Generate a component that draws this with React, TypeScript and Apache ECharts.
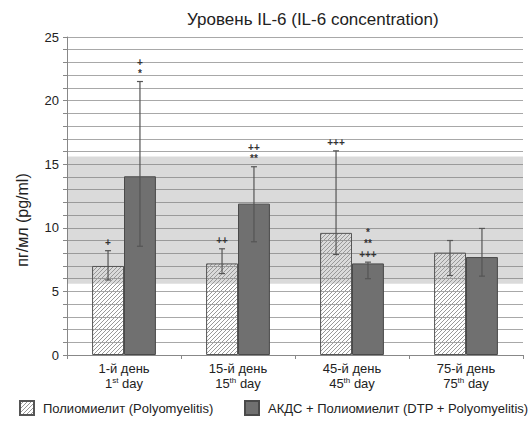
import React, { useEffect, useRef } from 'react';
import * as echarts from 'echarts';

const daysRu = ['1-й день', '15-й день', '45-й день', '75-й день'];
const dayNums = ['1', '15', '45', '75'];
const daySuffix = ['st', 'th', 'th', 'th'];
const polioMean = [7.0, 7.2, 9.6, 8.05];
const polioLow = [5.9, 6.4, 7.9, 6.25];
const polioHigh = [8.2, 8.35, 16.05, 9.0];
const dtpMean = [14.05, 11.9, 7.2, 7.7];
const dtpLow = [8.55, 8.9, 6.0, 6.2];
const dtpHigh = [21.5, 14.8, 7.3, 9.95];
const polioMarks = [['+'], ['++'], ['+++'], []];
const dtpMarks = [['+', '*'], ['++', '**'], ['*', '**', '+++'], []];
const refRange = [5.6, 15.6];
const seriesNames = ['Полиомиелит (Polyomyelitis)', 'АКДС + Полиомиелит (DTP + Polyomyelitis)'];
const titleText = 'Уровень IL-6 (IL-6 concentration)';
const yName = 'пг/мл (pg/ml)';

const FONT = '"Liberation Sans", Arial, sans-serif';

function makeHatch() {
  const s = 4;
  const c = document.createElement('canvas');
  c.width = s;
  c.height = s;
  const ctx = c.getContext('2d')!;
  ctx.strokeStyle = '#999';
  ctx.lineWidth = 1;
  ctx.beginPath();
  ctx.moveTo(-1, 1); ctx.lineTo(1, -1);
  ctx.moveTo(0, s); ctx.lineTo(s, 0);
  ctx.moveTo(s - 1, s + 1); ctx.lineTo(s + 1, s - 1);
  ctx.stroke();
  return c;
}

function errSeries(name: string, low: number[], high: number[], marks: string[][], sign: number) {
  return {
    type: 'custom',
    name: name + '_err',
    z: 5,
    silent: true,
    itemStyle: { color: '#333' },
    data: low.map((l, i) => [i, l, high[i]]),
    encode: { x: 0, y: [1, 2] },
    renderItem: (params: any, api: any) => {
      const i = api.value(0);
      const lo = api.coord([i, api.value(1)]);
      const hi = api.coord([i, api.value(2)]);
      const band = api.size([1, 0])[0];
      const x = lo[0] + sign * band * 0.14;
      const cap = 3;
      const st = { stroke: '#555', lineWidth: 1.2 };
      const children: any[] = [
        { type: 'line', shape: { x1: x, y1: lo[1], x2: x, y2: hi[1] }, style: st },
        { type: 'line', shape: { x1: x - cap, y1: hi[1], x2: x + cap, y2: hi[1] }, style: st },
        { type: 'line', shape: { x1: x - cap, y1: lo[1], x2: x + cap, y2: lo[1] }, style: st },
      ];
      const m = marks[params.dataIndex] || [];
      const n = m.length;
      m.forEach((t, k) => {
        children.push({
          type: 'text',
          style: {
            text: t,
            x: x,
            y: hi[1] - 8 - (n - 1 - k) * 11,
            align: 'center',
            verticalAlign: 'middle',
            fill: '#333',
            font: 'bold 10px ' + FONT,
          },
        });
      });
      return { type: 'group', children };
    },
  };
}

export default function App() {
  const ref = useRef<HTMLDivElement>(null);
  useEffect(() => {
    if (!ref.current) return;
    const chart = echarts.init(ref.current, null, { renderer: 'svg' });
    const hatch = makeHatch();
    const legendText = { fontFamily: FONT, fontSize: 13, color: '#222', padding: [0, 0, 0, 4] };
    chart.setOption({
      animation: false,
      backgroundColor: '#fff',
      title: {
        text: titleText,
        left: 182,
        top: 6,
        textStyle: { fontFamily: FONT, fontSize: 17, fontWeight: 'normal', color: '#222' },
      },
      legend: [
        {
          left: 14,
          bottom: 4,
          itemWidth: 14,
          itemHeight: 14,
          icon: 'rect',
          data: [seriesNames[0]],
          textStyle: legendText,
        },
        {
          left: 239,
          bottom: 4,
          itemWidth: 14,
          itemHeight: 14,
          icon: 'rect',
          data: [seriesNames[1]],
          textStyle: legendText,
        },
      ],
      grid: { left: 67, right: 8, top: 37, bottom: 70 },
      xAxis: {
        type: 'category',
        data: daysRu,
        axisLine: { lineStyle: { color: '#888' } },
        axisTick: { show: true, length: 4, lineStyle: { color: '#888' } },
        axisLabel: {
          margin: 6,
          interval: 0,
          formatter: (v: string, i: number) => `{a|${daysRu[i]}}\n{a|${dayNums[i]}}{s|${daySuffix[i]}}{a| day}`,
          rich: {
            a: { fontFamily: FONT, fontSize: 13, color: '#222', lineHeight: 15 },
            s: { fontFamily: FONT, fontSize: 8, color: '#222', lineHeight: 15, verticalAlign: 'top', padding: [0, 0, 6, 0] },
          },
        },
      },
      yAxis: {
        type: 'value',
        min: 0,
        max: 25,
        interval: 5,
        axisLine: { show: true, lineStyle: { color: '#888' } },
        axisTick: { show: true, length: 4, lineStyle: { color: '#888' } },
        minorTick: { show: true, splitNumber: 5, length: 4, lineStyle: { color: '#888' } },
        splitLine: { show: true, lineStyle: { color: '#a8a8a8', width: 1 } },
        minorSplitLine: { show: true, lineStyle: { color: '#a8a8a8', width: 1 } },
        axisLabel: { fontFamily: FONT, fontSize: 13, color: '#222', margin: 8 },
      },
      graphic: [
        {
          type: 'text',
          x: 22,
          y: 220,
          rotation: Math.PI / 2,
          style: {
            text: yName,
            align: 'center',
            verticalAlign: 'middle',
            font: '16px ' + FONT,
            fill: '#222',
          },
        },
      ],
      series: [
        {
          type: 'bar',
          name: seriesNames[0],
          data: polioMean,
          barWidth: '28%',
          barGap: '0%',
          itemStyle: {
            color: { image: hatch, repeat: 'repeat' },
            borderColor: '#555',
            borderWidth: 1,
          },
          markArea: {
            silent: true,
            itemStyle: { color: 'rgba(120,120,120,0.27)' },
            data: [[{ yAxis: refRange[0] }, { yAxis: refRange[1] }]],
          },
        },
        {
          type: 'bar',
          name: seriesNames[1],
          data: dtpMean,
          barWidth: '28%',
          barGap: '0%',
          itemStyle: { color: '#707070', borderColor: '#4a4a4a', borderWidth: 1 },
        },
        errSeries(seriesNames[0], polioLow, polioHigh, polioMarks, -1),
        errSeries(seriesNames[1], dtpLow, dtpHigh, dtpMarks, 1),
      ],
    });
    return () => chart.dispose();
  }, []);
  return <div ref={ref} style={{ position: 'fixed', left: 0, top: 0, width: 531, height: 425 }} />;
}
